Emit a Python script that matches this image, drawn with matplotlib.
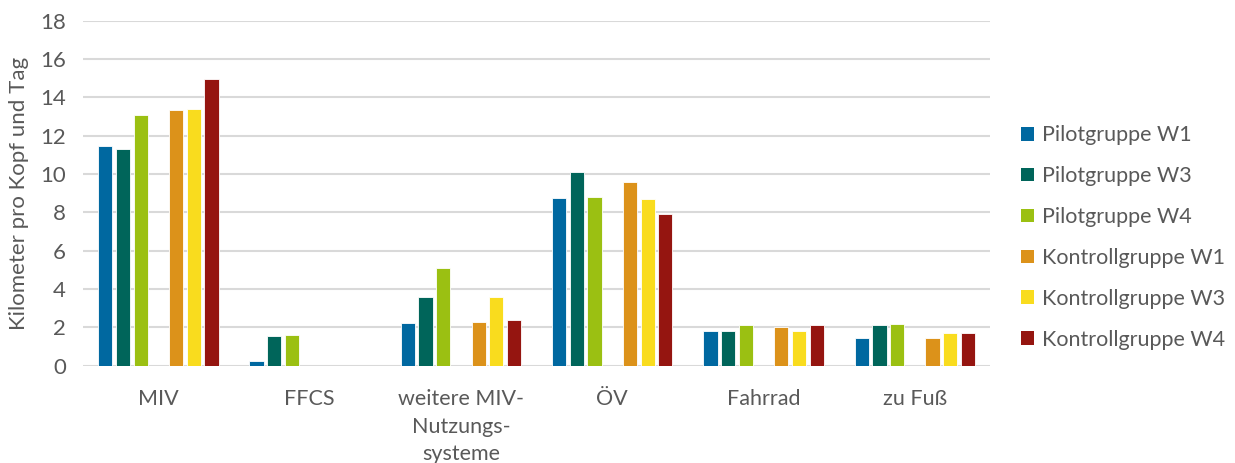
import numpy as np
import matplotlib.pyplot as plt
from matplotlib.patches import Patch

plt.rcParams['font.family'] = ['Lato', 'DejaVu Sans']

categories = ['MIV', 'FFCS', 'weitere MIV-\nNutzungs-\nsysteme', 'ÖV', 'Fahrrad', 'zu Fuß']
series_names = ['Pilotgruppe W1', 'Pilotgruppe W3', 'Pilotgruppe W4',
                'Kontrollgruppe W1', 'Kontrollgruppe W3', 'Kontrollgruppe W4']

pilot_w1 = [11.47, 0.24, 2.22, 8.76, 1.81, 1.45]
pilot_w3 = [11.29, 1.54, 3.61, 10.10, 1.81, 2.14]
pilot_w4 = [13.07, 1.59, 5.08, 8.81, 2.14, 2.19]
kontroll_w1 = [13.33, 0, 2.27, 9.61, 2.03, 1.45]
kontroll_w3 = [13.40, 0, 3.61, 8.70, 1.83, 1.73]
kontroll_w4 = [14.96, 0, 2.37, 7.90, 2.14, 1.71]

colors = ['#0068a0', '#00655a', '#9bc012', '#dc921a', '#f9dc1e', '#951510']
values = [pilot_w1, pilot_w3, pilot_w4, kontroll_w1, kontroll_w3, kontroll_w4]

fig = plt.figure(figsize=(12.35, 4.63), dpi=100)
ax = fig.add_axes([0.067, 0.21, 0.735, 0.745])

x = np.arange(len(categories))
slot = 0.117
# seven slots per group, the middle one stays empty
offsets = [-3, -2, -1, 1, 2, 3]
for vals, col, off in zip(values, colors, offsets):
    ax.bar(x + off * slot, vals, width=0.094, color=col, edgecolor='white', linewidth=0.6, zorder=3)

ax.set_xlim(-0.5, len(categories) - 0.5)
ax.set_ylim(0, 18)
ax.set_yticks(range(0, 19, 2))
ax.set_xticks(x)
ax.set_xticklabels(categories, va='top', linespacing=1.45)
ax.grid(axis='y', color='#d9d9d9', linewidth=1.5, zorder=0)
for s in ['top', 'right', 'left', 'bottom']:
    ax.spines[s].set_visible(False)
ax.tick_params(axis='y', length=0, labelsize=16, colors='#595959', pad=12)
ax.tick_params(axis='x', length=0, labelsize=15.5, colors='#595959', pad=17)
ax.set_ylabel('Kilometer pro Kopf und Tag', fontsize=16, color='#595959', labelpad=8)

handles = [Patch(facecolor=c, edgecolor='none') for c in colors]
fig.legend(handles, series_names, loc='center left', bbox_to_anchor=(0.811, 0.487),
           frameon=False, fontsize=15.5, labelcolor='#595959',
           handlelength=0.6, handleheight=0.6, handletextpad=0.4, labelspacing=0.97)

fig.savefig('out.png', dpi=100)
